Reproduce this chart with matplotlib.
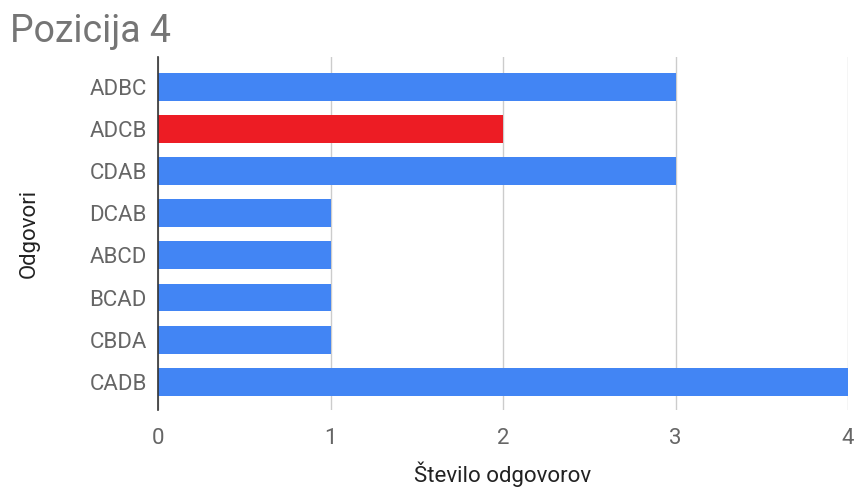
import matplotlib.pyplot as plt

## Chart data
categories = ['ADBC', 'ADCB', 'CDAB', 'DCAB', 'ABCD', 'BCAD', 'CBDA', 'CADB']
counts = [3, 2, 3, 1, 1, 1, 1, 4]
highlight = 'ADCB'
x_ticks = [0, 1, 2, 3, 4]

blue = '#4285f4'
red = '#ed1c24'

plt.rcParams['font.family'] = ['Roboto', 'DejaVu Sans']

fig = plt.figure(figsize=(8.56, 4.93), dpi=100)
ax = fig.add_axes([0.1846, 0.1684, 0.8061, 0.716])

## Bars, one per answer, highlighted one in red.
positions = list(range(len(categories)))
ax.barh(positions, counts, height=0.66,
        color=[red if c == highlight else blue for c in categories],
        zorder=3)

ax.set_xlim(0, 4)
ax.set_ylim(len(categories) - 1 + 0.67, -0.71)
ax.set_yticks(positions)
ax.set_yticklabels(categories)
ax.set_xticks(x_ticks)

## Grid and spines.
ax.grid(axis='x', color='#cccccc', linewidth=1, zorder=0)
for side in ['top', 'right', 'bottom']:
  ax.spines[side].set_visible(False)
ax.spines['left'].set_color('#333333')
ax.spines['left'].set_linewidth(1.2)
ax.spines['left'].set_zorder(4)
ax.tick_params(axis='both', length=0, labelsize=16, labelcolor='#666666')
ax.tick_params(axis='x', pad=13)
ax.tick_params(axis='y', pad=8)

ax.set_xlabel('Število odgovorov', fontsize=16, color='#222222', labelpad=9)
ax.set_ylabel('Odgovori', fontsize=16, color='#222222', labelpad=36)

fig.text(0.012, 0.915, 'Pozicija 4', fontsize=27, color='#757575',
         ha='left', va='baseline')

fig.savefig('out.png', dpi=100)
